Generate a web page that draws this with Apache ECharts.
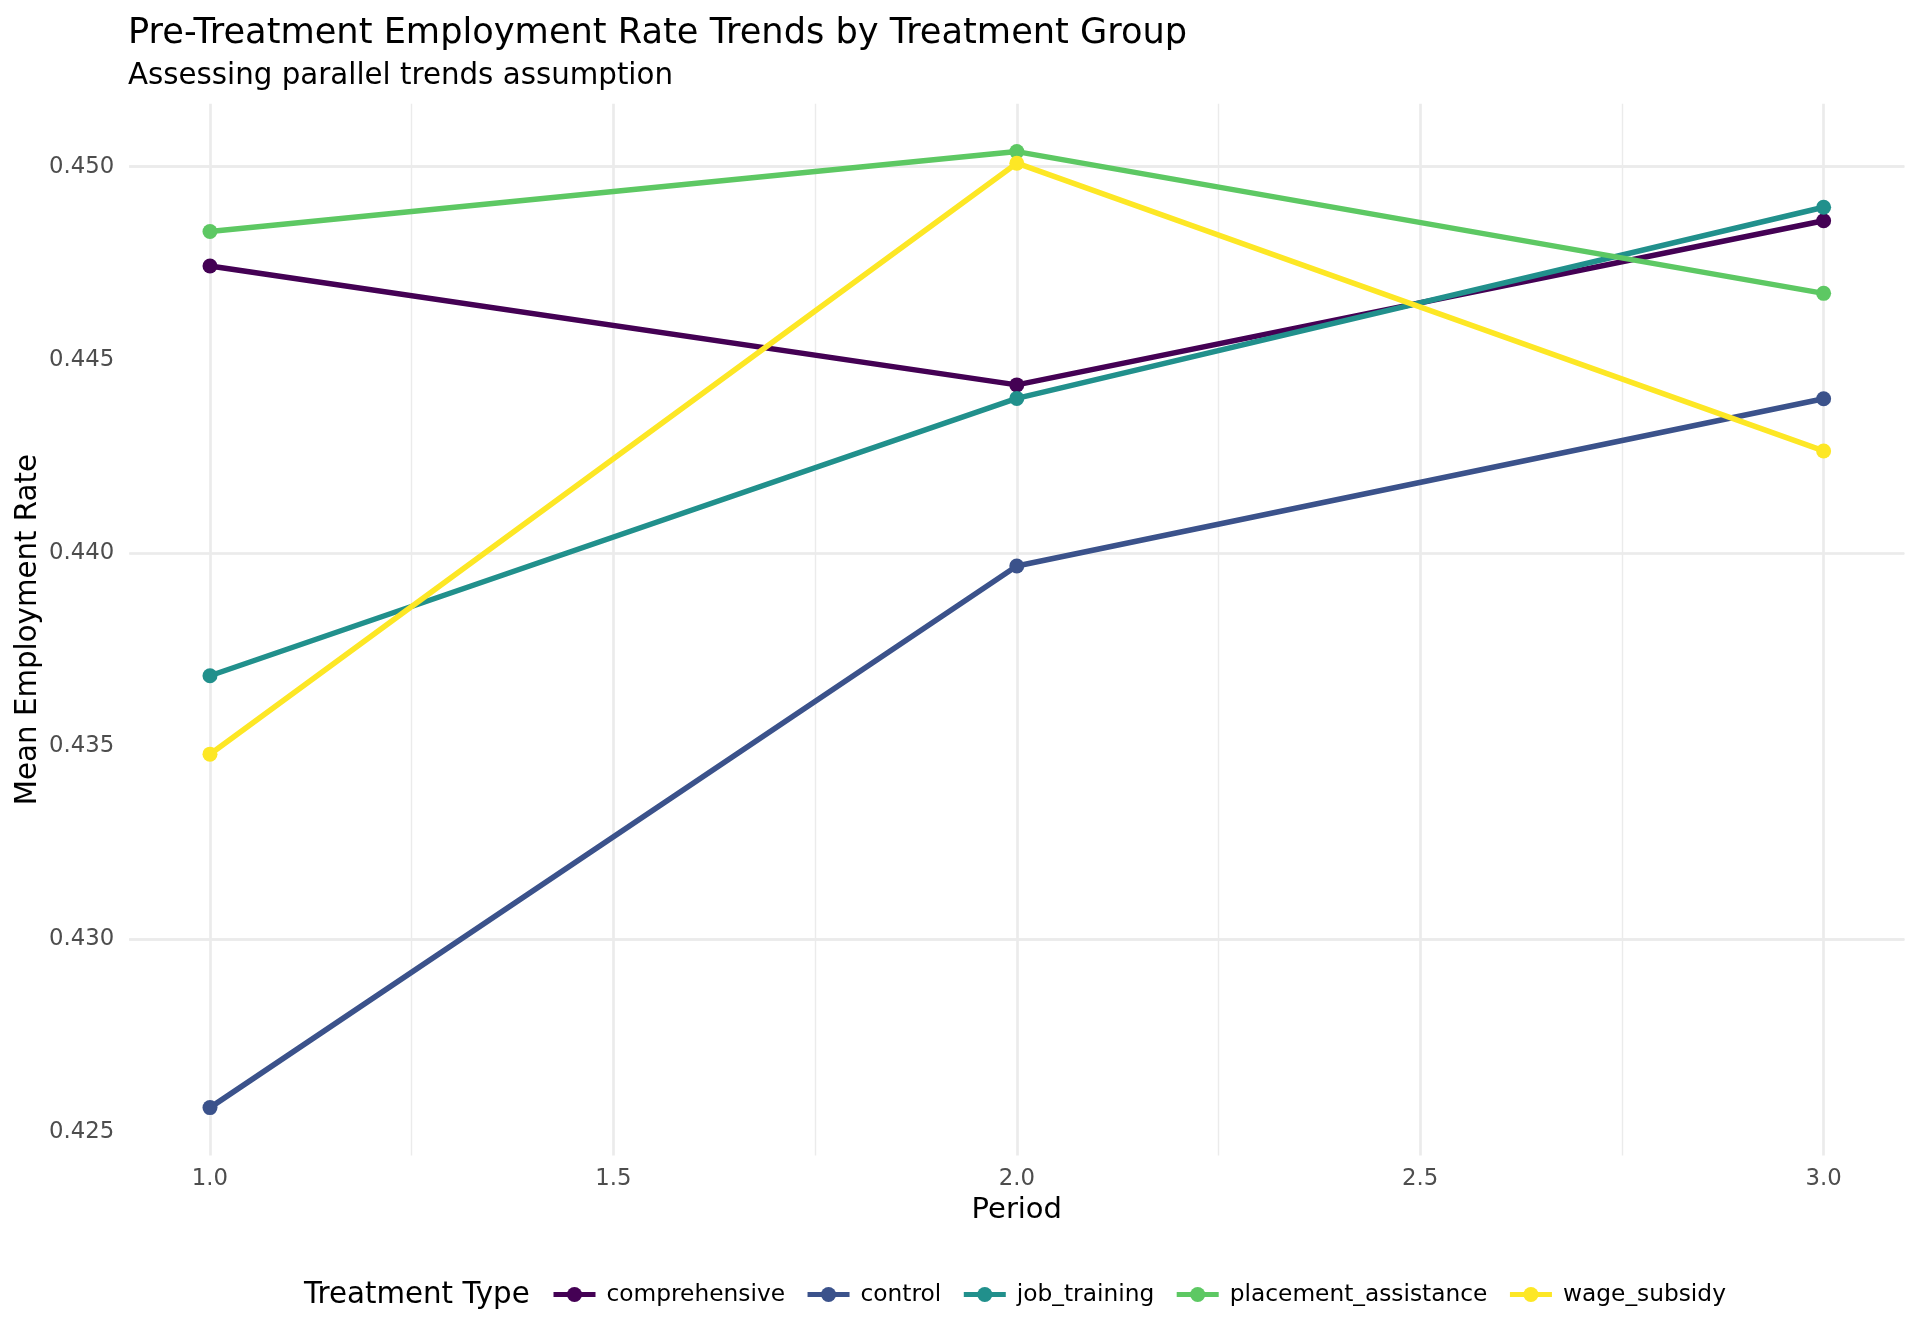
<!DOCTYPE html>
<html>
<head>
<meta charset="utf-8">
<script src="https://cdn.jsdelivr.net/npm/echarts@6/dist/echarts.min.js"></script>
<style>
html,body{margin:0;padding:0;background:#ffffff;}
#chart{width:1920px;height:1344px;}
</style>
</head>
<body>
<div id="chart"></div>
<script>
// ---- data ----
var periods = [1, 2, 3];
var groupNames = ['comprehensive', 'control', 'job_training', 'placement_assistance', 'wage_subsidy'];
var comprehensive = [0.44743, 0.44435, 0.44860];
var control = [0.42564, 0.43966, 0.44399];
var job_training = [0.43682, 0.44400, 0.44895];
var placement_assistance = [0.44832, 0.45039, 0.44672];
var wage_subsidy = [0.43479, 0.45009, 0.44264];
var groupColors = ['#440154', '#3B528B', '#21908C', '#5DC863', '#FDE725'];

var xMajorTicks = [1.0, 1.5, 2.0, 2.5, 3.0];
var xTickLabels = ['1.0', '1.5', '2.0', '2.5', '3.0'];
var xMinorTicks = [1.25, 1.75, 2.25, 2.75];
var yMajorTicks = [0.425, 0.430, 0.435, 0.440, 0.445, 0.450];
var yTickLabels = ['0.425', '0.430', '0.435', '0.440', '0.445', '0.450'];
var yMinorTicks = [0.4275, 0.4325, 0.4375, 0.4425, 0.4475];

var FONT = 'DejaVu Sans';
var seriesValues = [comprehensive, control, job_training, placement_assistance, wage_subsidy];

function labelFor(ticks, labels) {
  return function (v) {
    for (var i = 0; i < ticks.length; i++) {
      if (Math.abs(v - ticks[i]) < 1e-7) return labels[i];
    }
    return '';
  };
}

var series = [];
// grid lines (drawn through the axes via markLine)
var gridMarks = [];
yMajorTicks.forEach(function (v) { gridMarks.push({ yAxis: v, lineStyle: { width: 2.7, color: '#EBEBEB', type: 'solid' } }); });
yMinorTicks.forEach(function (v) { gridMarks.push({ yAxis: v, lineStyle: { width: 1.4, color: '#EBEBEB', type: 'solid' } }); });
xMajorTicks.forEach(function (v) { gridMarks.push({ xAxis: v, lineStyle: { width: 2.7, color: '#EBEBEB', type: 'solid' } }); });
xMinorTicks.forEach(function (v) { gridMarks.push({ xAxis: v, lineStyle: { width: 1.4, color: '#EBEBEB', type: 'solid' } }); });
series.push({
  name: '__grid', type: 'line', data: [], z: 0, silent: true,
  markLine: { z: 0, silent: true, symbol: ['none', 'none'], label: { show: false },
    emphasis: { disabled: true }, data: gridMarks, animation: false }
});

groupNames.forEach(function (name, i) {
  series.push({
    name: name,
    type: 'line',
    z: 3 + i,
    data: periods.map(function (p, j) { return [p, seriesValues[i][j]]; }),
    symbol: 'circle',
    symbolSize: 15,
    showSymbol: true,
    lineStyle: { width: 5.5, color: groupColors[i] },
    itemStyle: { color: groupColors[i] },
    emphasis: { disabled: true }
  });
});

var chart = echarts.init(document.getElementById('chart'), null, { renderer: 'canvas' });
chart.setOption({
  animation: false,
  backgroundColor: '#ffffff',
  title: [
    { text: 'Pre-Treatment Employment Rate Trends by Treatment Group', left: 128, top: 16,
      padding: 0, textStyle: { fontFamily: FONT, fontSize: 35.2, fontWeight: 'normal', color: '#000000' } },
    { text: 'Assessing parallel trends assumption', left: 128, top: 62,
      padding: 0, textStyle: { fontFamily: FONT, fontSize: 29.3, fontWeight: 'normal', color: '#000000' } },
    { text: 'Treatment Type', left: 304, top: 1281,
      padding: 0, textStyle: { fontFamily: FONT, fontSize: 29.3, fontWeight: 'normal', color: '#000000' } }
  ],
  grid: { left: 129.3, right: 15.7, top: 103.7, bottom: 188.5, containLabel: false },
  xAxis: {
    type: 'value', min: 0.9, max: 3.1, interval: 0.05,
    name: 'Period', nameLocation: 'middle', nameGap: 40,
    nameTextStyle: { fontFamily: FONT, fontSize: 29, color: '#000000' },
    axisLine: { show: false }, axisTick: { show: false }, splitLine: { show: false },
    axisLabel: { interval: 0, margin: 12, fontFamily: FONT, fontSize: 22.8, color: '#4D4D4D',
      formatter: labelFor(xMajorTicks, xTickLabels), showMinLabel: true, showMaxLabel: true }
  },
  yAxis: {
    type: 'value', min: 0.4244, max: 0.45163, interval: 0.0001,
    name: 'Mean Employment Rate', nameLocation: 'middle', nameGap: 86, nameRotate: 90,
    nameMoveOverlap: false,
    nameTextStyle: { fontFamily: FONT, fontSize: 29.3, color: '#000000' },
    axisLine: { show: false }, axisTick: { show: false }, splitLine: { show: false },
    axisLabel: { interval: 0, margin: 15, fontFamily: FONT, fontSize: 22.8, color: '#4D4D4D',
      formatter: labelFor(yMajorTicks, yTickLabels), showMinLabel: true, showMaxLabel: true }
  },
  legend: {
    data: groupNames,
    left: 551, top: 1283, orient: 'horizontal', padding: 0,
    itemWidth: 42, itemHeight: 19, itemGap: 20,
    lineStyle: { width: 5 },
    textStyle: { fontFamily: FONT, fontSize: 23.3, color: '#000000', padding: [0, 0, 0, 6] },
    selectedMode: false
  },
  series: series
});
</script>
</body>
</html>
